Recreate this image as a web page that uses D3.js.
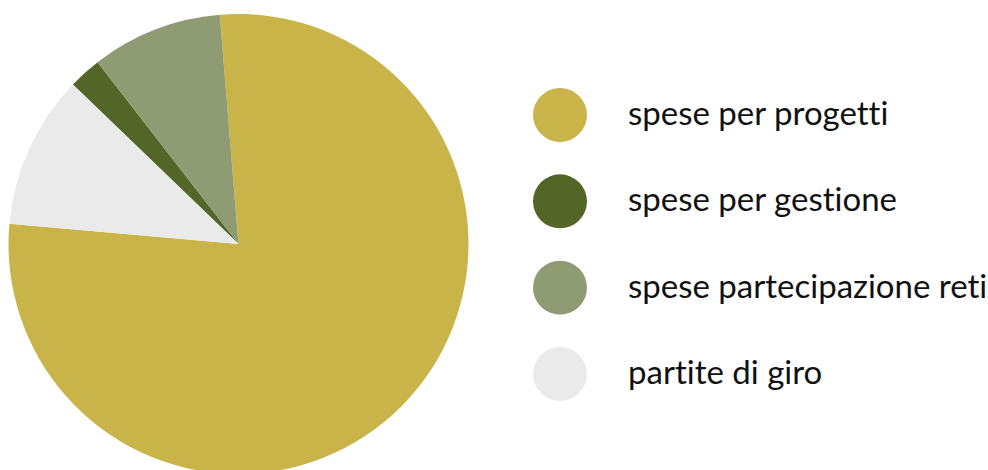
<!DOCTYPE html>
<html>
<head>
<meta charset="utf-8">
<script src="https://cdn.jsdelivr.net/npm/d3@7"></script>
<style>
  html, body { margin: 0; padding: 0; background: #fff; }
  svg { display: block; }
  .legend text {
    font-family: "Lato", "Open Sans", sans-serif;
    font-size: 33px;
    font-weight: 400;
    font-variant-ligatures: none;
    fill: #111;
  }
</style>
</head>
<body>
<div id="chart"></div>
<script>
// legend order
const categories = ["spese per progetti", "spese per gestione", "spese partecipazione reti", "partite di giro"];
const values = [77.7, 2.3, 9.2, 10.8];
const colors = ["#c9b44a", "#536627", "#8f9b73", "#eaeaea"];
// clockwise order of the slices, starting near the top
const pieOrder = ["spese per progetti", "partite di giro", "spese per gestione", "spese partecipazione reti"];

const width = 988, height = 470;
const cx = 238.5, cy = 244, radius = 230;

const data = categories.map((c, i) => ({ name: c, value: values[i], color: colors[i] }));

const svg = d3.select("#chart").append("svg")
  .attr("width", width)
  .attr("height", height);

const pie = d3.pie()
  .value(d => d.value)
  .sort((a, b) => pieOrder.indexOf(a.name) - pieOrder.indexOf(b.name))
  .startAngle(-4.67 * Math.PI / 180)
  .endAngle(2 * Math.PI - 4.67 * Math.PI / 180);

const arc = d3.arc().innerRadius(0).outerRadius(radius);

svg.append("g")
  .attr("transform", `translate(${cx},${cy})`)
  .selectAll("path")
  .data(pie(data))
  .join("path")
  .attr("d", arc)
  .attr("fill", d => d.data.color);

// legend
const y = d3.scalePoint()
  .domain(categories)
  .range([115, 374]);

const legend = svg.append("g").attr("class", "legend");

const item = legend.selectAll("g")
  .data(data)
  .join("g")
  .attr("transform", d => `translate(0,${y(d.name)})`);

item.append("circle")
  .attr("cx", 560)
  .attr("r", 27)
  .attr("fill", d => d.color);

item.append("text")
  .attr("x", 628)
  .attr("y", 10)
  .text(d => d.name);
</script>
</body>
</html>
